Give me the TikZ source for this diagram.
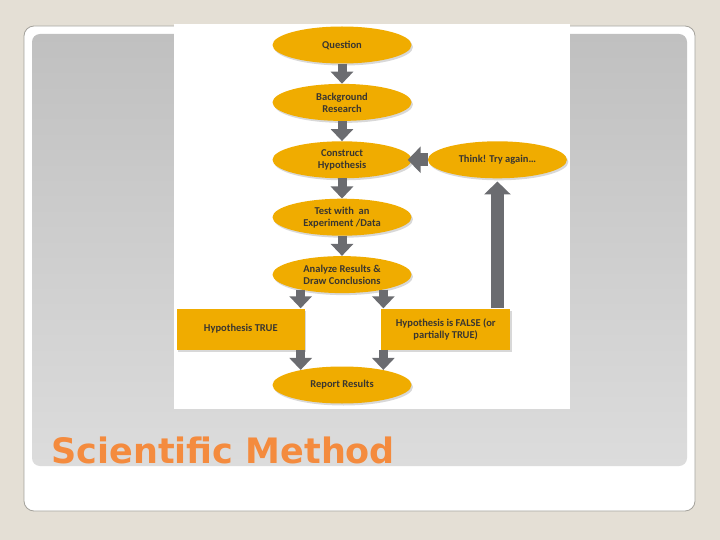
\documentclass[tikz,border=0pt]{standalone}
\usepackage{fontspec}
\setmainfont{Carlito}
\newfontfamily\titlefont{DejaVu Sans}
\usetikzlibrary{arrows.meta,positioning,shapes.geometric,shadows}
\definecolor{slidebg}{HTML}{E4DFD5}
\definecolor{framegray}{HTML}{A4A29C}
\definecolor{paneltop}{HTML}{C0C0C0}
\definecolor{panelbottom}{HTML}{DCDCDC}
\definecolor{gold}{HTML}{F0AC00}
\definecolor{arrowgray}{HTML}{6B6C70}
\definecolor{stepink}{HTML}{3A3630}
\definecolor{titleorange}{HTML}{F48B3E}

\begin{document}
\begin{tikzpicture}[
    x=1pt, y=-1pt,
    node distance=20pt,
    every node/.style={font=\bfseries\fontsize{10.5}{12}\selectfont, text=stepink},
    oval/.style={
      ellipse,
      fill=gold,
      minimum width=139pt,
      minimum height=37pt,
      inner sep=0pt,
      align=center,
      drop shadow={shadow xshift=1.5pt, shadow yshift=-2pt, opacity=.3}
    },
    panel/.style={
      rectangle,
      fill=gold,
      minimum width=128pt,
      minimum height=41pt,
      inner sep=0pt,
      align=center,
      drop shadow={shadow xshift=1.5pt, shadow yshift=-2pt, opacity=.3}
    },
    flow/.style={draw=arrowgray, line width=9pt, -{Triangle[width=22pt, length=12pt]}},
    flowbig/.style={draw=arrowgray, line width=13pt, -{Triangle[width=26pt, length=13pt]}}
  ]
    % slide
    \fill[slidebg] (0,0) rectangle (720,540);
    \useasboundingbox (0,0) rectangle (720,540);
    \filldraw[fill=white, draw=framegray, line width=0.8pt, rounded corners=10pt] (24,26) rectangle (695,511);
    \shade[top color=paneltop, bottom color=panelbottom, rounded corners=8pt] (32,34) rectangle (687,466);
    \fill[white] (174,24) rectangle (570,409);

    % flowchart
    \node[oval] (q) at (342,45) {Question};
    \node[oval, below=of q] (bg) {Background\\Research};
    \node[oval, below=of bg] (co) {Construct\\Hypothesis};
    \node[oval, right=16pt of co] (th) {Think! Try again…};
    \node[oval, below=of co] (te) {Test with\ \ an\\Experiment /Data};
    \node[oval, below=of te] (an) {Analyze Results \&\\Draw Conclusions};
    \node[panel, below left=15pt and 37pt of an.south] (tr) {Hypothesis TRUE};
    \node[panel, minimum width=129pt, below right=15pt and 39pt of an.south] (fa) {Hypothesis is FALSE (or\\partially TRUE)};
    \node[oval, below=73pt of an] (rp) {Report Results};

    \draw[flow] (q) -- (bg);
    \draw[flow] (bg) -- (co);
    \draw[flow] (co) -- (te);
    \draw[flow] (te) -- (an);
    \draw[flow] (an.200) -- (an.200 |- tr.north);
    \draw[flow] (an.340) -- (an.340 |- fa.north);
    \draw[flow] (an.200 |- tr.south) -- (rp.160 -| an.200);
    \draw[flow] (an.340 |- fa.south) -- (rp.20 -| an.340);
    \draw[flowbig, shorten >=3pt] (th.south |- fa.north) -- (th.south);
    \draw[flowbig] (th.west) -- ([xshift=-4pt]co.east);

    % title
    \node[anchor=base west, font=\titlefont\bfseries\fontsize{35}{40}\selectfont, text=titleorange] (title) at (48,463) {Scientific Method};
  \end{tikzpicture}
\end{document}
